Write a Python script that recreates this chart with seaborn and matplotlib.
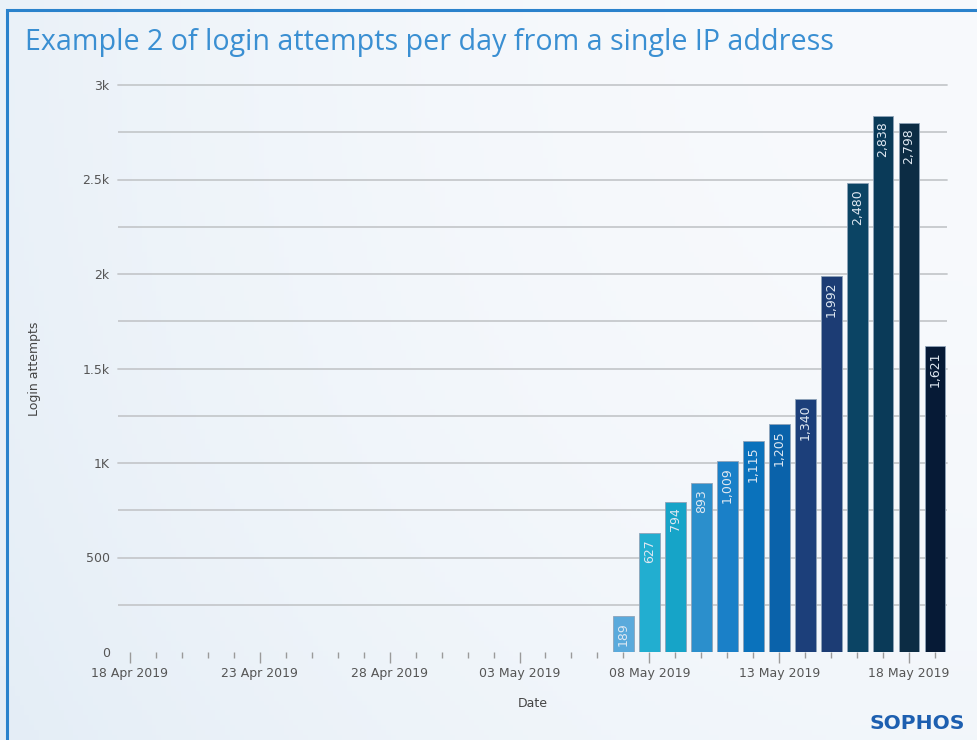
import numpy as np
import pandas as pd
import matplotlib
matplotlib.use("Agg")
import matplotlib.pyplot as plt
import matplotlib.dates as mdates
from matplotlib.patches import Rectangle
from matplotlib.ticker import MultipleLocator, FixedLocator
import seaborn as sns

# data
dates = pd.date_range("2019-05-07", "2019-05-19", freq="D")
attempts = [189, 627, 794, 893, 1009, 1115, 1205, 1340, 1992, 2480, 2838, 2798, 1621]
bar_colors = ["#5aaadc", "#22aed0", "#16a4c8", "#2b8fcc", "#1a80c8", "#0a72bc", "#0a62aa",
              "#1c3f7a", "#1c3c74", "#0b4464", "#0a3a58", "#0c2c44", "#061a36"]
axis_start = pd.Timestamp("2019-04-18")
axis_end = pd.Timestamp("2019-05-19")
y_ticks = [0, 500, 1000, 1500, 2000, 2500, 3000]
y_tick_labels = ["0", "500", "1K", "1.5k", "2k", "2.5k", "3k"]

df = pd.DataFrame({"day": mdates.date2num(dates), "attempts": attempts})
df["key"] = dates.strftime("%Y-%m-%d")
palette = dict(zip(df["key"], bar_colors))

sns.set_theme(style="white")
plt.rcParams["font.family"] = ["DejaVu Sans"]

fig = plt.figure(figsize=(9.78, 7.40), dpi=100)

# soft background gradient
bg = fig.add_axes([0, 0, 1, 1], zorder=-10)
gx = np.linspace(0, 1, 200)
gy = np.linspace(0, 1, 150)
X, Y = np.meshgrid(gx, gy)
shade = 0.6 * (1 - X) ** 2 + 0.25 * (1 - Y) ** 2
c0 = np.array([0.972, 0.980, 0.990])
c1 = np.array([0.880, 0.922, 0.962])
img = c0 + (c1 - c0) * np.clip(shade, 0, 1)[..., None]
bg.imshow(img, aspect="auto", extent=[0, 1, 0, 1], origin="lower")
bg.axis("off")
fig.patches.append(Rectangle((7 / 978, -0.1), 1.2, 1.1 - 10 / 740, transform=fig.transFigure,
                             fill=False, edgecolor="#2a82cc", linewidth=2.2, zorder=5))

ax = fig.add_axes([118 / 978, 1 - 652 / 740, (947 - 118) / 978, (652 - 85) / 740])
ax.set_facecolor("none")

sns.barplot(data=df, x="day", y="attempts", hue="key", palette=palette, native_scale=True,
            dodge=False, legend=False, width=0.8, saturation=1, ax=ax, zorder=3,
            edgecolor="#8fa3b8", linewidth=0.6)

for d, v in zip(df["day"], df["attempts"]):
    ax.annotate(f"{v:,}", (d, v), xytext=(0, -4), textcoords="offset points", rotation=90,
                ha="center", va="top", color="#dfe8f2", fontsize=9, zorder=4)

ax.set_xlim(mdates.date2num(axis_start) - 0.46, mdates.date2num(axis_end) + 0.46)
ax.set_ylim(0, 3000)

ax.yaxis.set_major_locator(FixedLocator(y_ticks))
ax.set_yticklabels(y_tick_labels)
ax.yaxis.set_minor_locator(MultipleLocator(250))
ax.grid(True, axis="y", which="both", color="#c6c9cc", linewidth=1.3, zorder=0)
for gl in ax.get_ygridlines() + ax.yaxis.get_minorticklines():
    gl.set_clip_on(False)
ax.get_ygridlines()[0].set_visible(False)
ax.tick_params(axis="y", which="both", length=0, pad=6, labelsize=9, labelcolor="#555555")

major_days = pd.date_range(axis_start, axis_end, freq="5D")
ax.xaxis.set_major_locator(FixedLocator(mdates.date2num(major_days)))
ax.xaxis.set_minor_locator(FixedLocator(mdates.date2num(pd.date_range(axis_start, axis_end, freq="D"))))
ax.xaxis.set_major_formatter(mdates.DateFormatter("%d %b %Y"))
ax.tick_params(axis="x", which="major", length=8, width=1, color="#9a9a9a", direction="out",
               pad=3, labelsize=9, labelcolor="#555555", bottom=True)
ax.tick_params(axis="x", which="minor", length=4.5, width=1, color="#9a9a9a", direction="out", bottom=True)

for s in ax.spines.values():
    s.set_visible(False)

ax.set_xlabel("Date", fontsize=9, color="#444444", labelpad=12)
ax.set_ylabel("Login attempts", fontsize=9, color="#444444", labelpad=0)
ax.yaxis.set_label_coords(-0.093, 0.5)

fig.text(25 / 978, 1 - 50 / 740, "Example 2 of login attempts per day from a single IP address",
         fontsize=20.6, color="#3a8fd2", family="Open Sans", ha="left", va="baseline")
fig.text(965 / 978, 1 - 729 / 740, "SOPHOS", fontsize=14.6, color="#1d5fb0", family="DejaVu Sans",
         fontweight="bold", ha="right", va="baseline")

fig.savefig("out.png", dpi=100)
